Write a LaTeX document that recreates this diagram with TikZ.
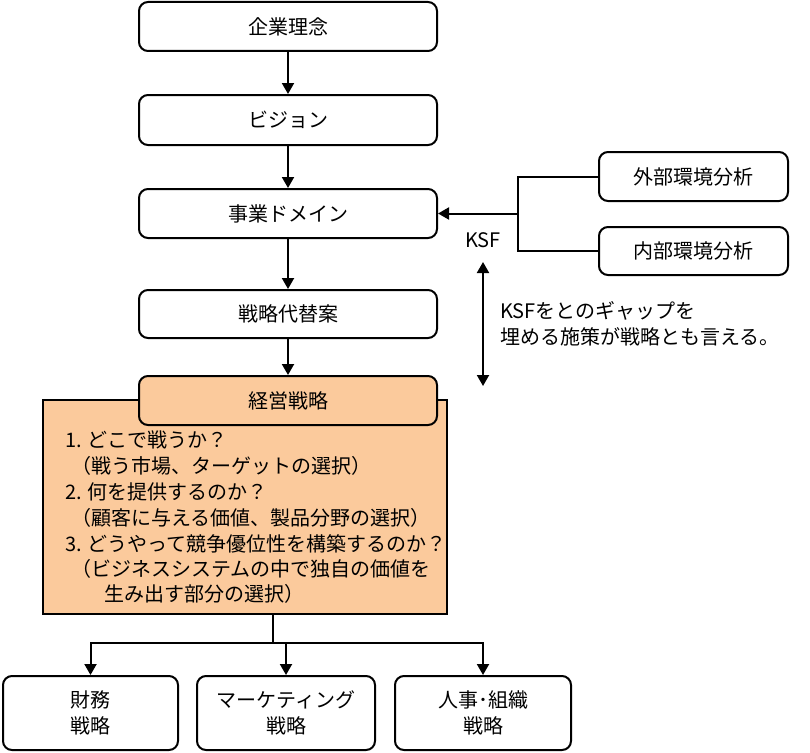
\documentclass[tikz,border=0pt]{standalone}
\usepackage{fontspec}
\setmainfont{Liberation Sans}
\newfontfamily\jp{Noto Sans CJK JP}
\usetikzlibrary{arrows.meta}
\definecolor{orangefill}{RGB}{251,202,156}
\tikzset{
  box/.style={draw, line width=2pt, rounded corners=9pt, fill=white, inner sep=0pt,
    minimum width=298pt, minimum height=49pt, align=center, font=\jp\fontsize{20}{26}\selectfont},
  conn/.style={line width=2pt},
  arr/.style={line width=2pt, -{Triangle[length=11pt,width=12pt]}},
  darr/.style={line width=2pt, {Triangle[length=11pt,width=12pt]}-{Triangle[length=11pt,width=12pt]}},
  txt/.style={anchor=base west, inner sep=0pt, font=\jp\fontsize{20}{26}\selectfont},
}
\begin{document}
\begin{tikzpicture}[x=1pt,y=-1pt]
\useasboundingbox (0,0) rectangle (810,752);
% main column
\node[box] (kigyo) at (288,26.5) {企業理念};
\node[box, minimum height=50pt] (vision) at (288,120) {ビジョン};
\node[box] (domain) at (288,213.5) {事業ドメイン};
\node[box, minimum height=48pt] (alt) at (288,314) {戦略代替案};
\node[draw, line width=2pt, fill=orangefill, minimum width=404pt, minimum height=214pt, inner sep=0pt] (panel) at (245,507) {};
\node[box, fill=orangefill] (keiei) at (288,400.5) {経営戦略};
% right side
\node[box, minimum width=189pt] (gaibu) at (693.5,176.5) {外部環境分析};
\node[box, minimum width=189pt, minimum height=48pt] (naibu) at (693.5,251) {内部環境分析};
% bottom
\node[box, minimum width=175pt, minimum height=74pt] (zaimu) at (90.5,713) {財務\\戦略};
\node[box, minimum width=178pt, minimum height=74pt] (mkt) at (286,713) {マーケティング\\戦略};
\node[box, minimum width=176pt, minimum height=74pt] (jinji) at (483,713) {人事･組織\\戦略};
% panel text
\node[txt] (l1) at (65,447) {1. どこで戦うか？};
\node[txt] (l2) at (71,473) {（戦う市場、ターゲットの選択）};
\node[txt] (l3) at (65,499) {2. 何を提供するのか？};
\node[txt] (l4) at (71,525) {（顧客に与える価値、製品分野の選択）};
\node[txt] (l5) at (65,551) {3. どうやって競争優位性を構築するのか？};
\node[txt] (l6) at (71,576) {（ビジネスシステムの中で独自の価値を};
\node[txt] (l7) at (104,601) {生み出す部分の選択）};
% KSF labels
\node[txt, anchor=center] (ksf) at (483,240) {KSF};
\node[txt] (n1) at (500,318) {KSFをとのギャップを};
\node[txt] (n2) at (500,344) {埋める施策が戦略とも言える。};
% connectors
\draw[arr] (kigyo) -- (vision);
\draw[arr] (vision) -- (domain);
\draw[arr] (domain) -- (alt);
\draw[arr] (alt) -- (keiei);
\coordinate (j) at (518,213.5);
\draw[conn] (gaibu.west) -| (j) |- (naibu.west);
\draw[arr] (j) -- (domain.east);
\coordinate (ktop) at (483,262);
\coordinate (kbot) at (483,386);
\draw[darr] (ktop) -- (kbot);
\coordinate (b) at (273,643);
\draw[conn] (panel.south -| b) -- (b);
\draw[arr] (b) -| (zaimu.north);
\draw[arr] (b) -| (mkt.north);
\draw[arr] (b) -| (jinji.north);
\end{tikzpicture}
\end{document}
